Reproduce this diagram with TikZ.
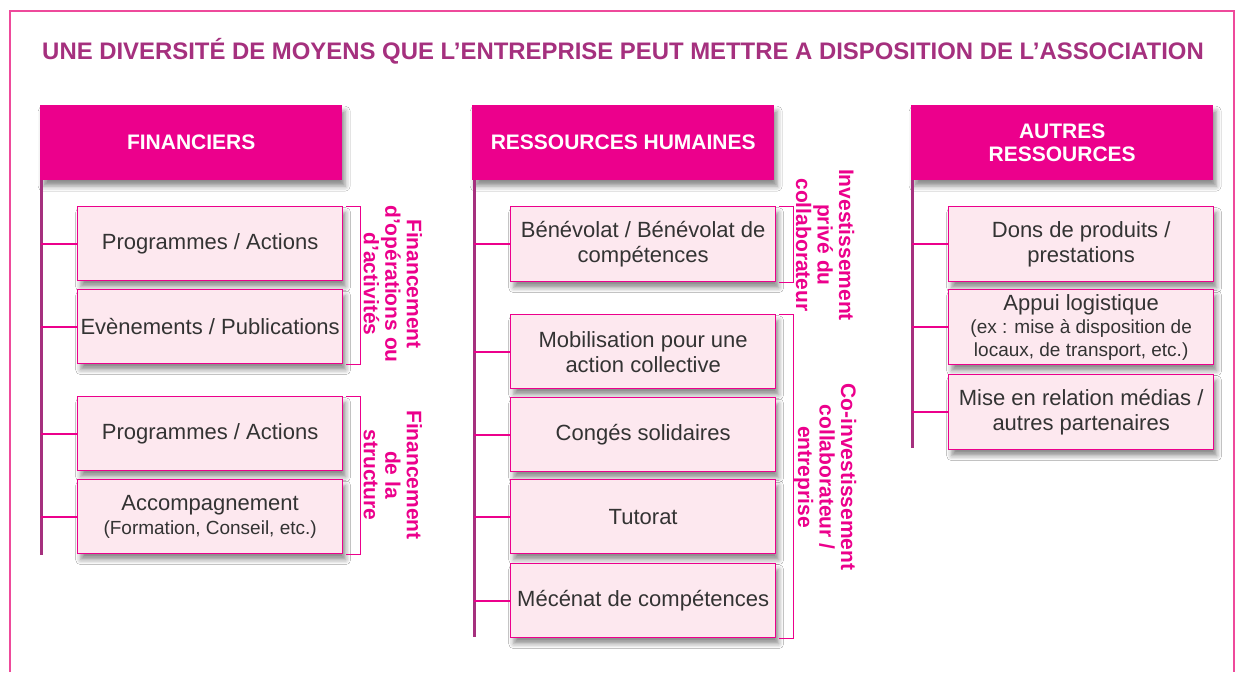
\documentclass[tikz,border=0pt]{standalone}
\usepackage{fontspec}
\setmainfont{Liberation Sans}
\usetikzlibrary{shadows.blur}
\definecolor{mag}{HTML}{EC008C}
\definecolor{purp}{HTML}{A5307E}
\definecolor{boxfill}{HTML}{FDE8EF}
\definecolor{txtgray}{HTML}{333333}
\definecolor{framecol}{HTML}{EE4A9B}
\newcommand\smallf{\fontsize{19}{24}\selectfont}
\begin{document}
\begin{tikzpicture}[x=1pt,y=-1pt,
  shad/.style={blur shadow={shadow xshift=3pt,shadow yshift=-6pt,shadow blur radius=5pt,shadow opacity=45}},
  hdr/.style={anchor=north west, fill=mag, text=white, font=\bfseries\fontsize{21}{23}\selectfont,
    minimum width=302pt, minimum height=75pt, align=center, inner sep=0pt, shad},
  item/.style={anchor=north west, fill=boxfill, draw=mag, line width=1.3pt, text=txtgray,
    font=\fontsize{22}{25}\selectfont, align=center, inner sep=0pt,
    minimum width=265pt, minimum height=74pt, shad},
  lbl/.style={rotate=-90, text=mag, font=\bfseries\fontsize{21}{21.5}\selectfont, align=center, inner sep=0pt},
  trunk/.style={draw=purp, line width=3pt},
  branch/.style={draw=mag, line width=2pt},
  brk/.style={draw=mag, line width=1pt},
  framest/.style={draw=framecol, line width=1.5pt}
]
\useasboundingbox (0,0) rectangle (1239,672);
\fill[white] (0,0) rectangle (1239,672);
\draw[framest] (10,672) -- (10,11) -- (1234,11) -- (1234,672);

\node[font=\bfseries\fontsize{23.9}{26}\selectfont, text=purp] (title) at (623,51)
  {UNE DIVERSITÉ DE MOYENS QUE L’ENTREPRISE PEUT METTRE A DISPOSITION DE L’ASSOCIATION};

% Column 1
\node[hdr] (h1) at (40,105) {FINANCIERS};
\node[item] (a1) at (77,206) {Programmes / Actions};
\node[item] (a2) at (77,289) {Evènements / Publications};
\node[item] (a3) at (77,396) {Programmes / Actions};
\node[item] (a4) at (77,479) {Accompagnement\\[-1pt]\smallf (Formation, Conseil, etc.)};
\coordinate (t1) at (41,555);
\draw[trunk] (h1.south west -| t1) -- (t1);
\foreach \n in {a1,a2,a3,a4} \draw[branch] (\n.west -| t1) -- (\n.west);
\draw[brk] ([xshift=3pt]a1.north east) -- ++(14,0) |- ([xshift=3pt]a2.south east);
\draw[brk] ([xshift=3pt]a3.north east) -- ++(14,0) |- ([xshift=3pt]a4.south east);
\node[lbl] (l1) at (393,284) {Financement\\d’opérations ou\\d’activités};
\node[lbl] (l2) at (393,475) {Financement\\de la\\structure};

% Column 2
\node[hdr] (h2) at (472,105) {RESSOURCES HUMAINES};
\node[item, minimum height=75pt] (b1) at (510,206) {Bénévolat / Bénévolat de\\compétences};
\node[item] (b2) at (510,314) {Mobilisation pour une\\action collective};
\node[item] (b3) at (510,397) {Congés solidaires};
\node[item] (b4) at (510,479) {Tutorat};
\node[item] (b5) at (510,563) {Mécénat de compétences};
\coordinate (t2) at (474,637);
\draw[trunk] (h2.south west -| t2) -- (t2);
\foreach \n in {b1,b2,b3,b4,b5} \draw[branch] (\n.west -| t2) -- (\n.west);
\draw[brk] ([xshift=3pt]b1.north east) -- ++(14,0) |- ([xshift=3pt]b1.south east);
\draw[brk] ([xshift=3pt]b2.north east) -- ++(14,0) |- ([xshift=3pt]b5.south east);
\node[lbl] (l3) at (825,245) {Investissement\\privé du\\collaborateur};
\node[lbl] (l4) at (825,477) {Co-investissement\\collaborateur /\\entreprise};

% Column 3
\node[hdr] (h3) at (911,105) {AUTRES\\RESSOURCES};
\node[item, minimum height=75pt] (c1) at (948,206) {Dons de produits /\\prestations};
\node[item, minimum height=75pt] (c2) at (948,289) {Appui logistique\\[-2pt]\smallf (ex : mise à disposition de\\[-2pt]\smallf locaux, de transport, etc.)};
\node[item, minimum height=75pt] (c3) at (948,374) {Mise en relation médias /\\autres partenaires};
\coordinate (t3) at (912,448);
\draw[trunk] (h3.south west -| t3) -- (t3);
\foreach \n in {c1,c2,c3} \draw[branch] (\n.west -| t3) -- (\n.west);
\end{tikzpicture}
\end{document}
